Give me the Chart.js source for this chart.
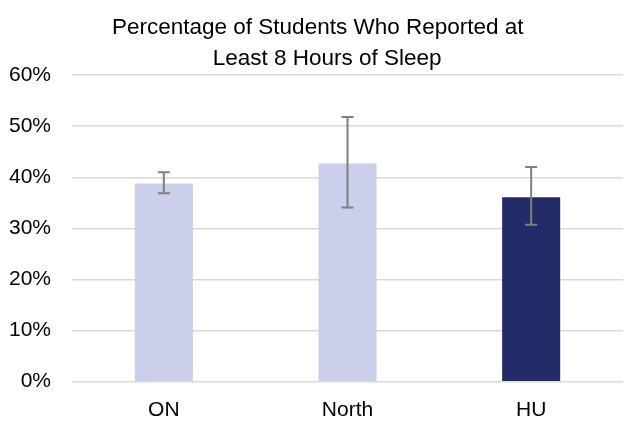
<!DOCTYPE html>
<html>
<head>
<meta charset="utf-8">
<script src="https://cdn.jsdelivr.net/npm/chart.js@4"></script>
<style>
  html, body { margin: 0; padding: 0; background: #fff; }
  #wrap { width: 637px; height: 433px; }
</style>
</head>
<body>
<div id="wrap"><canvas id="sleep"></canvas></div>
<script>
// data
const categories = ['ON', 'North', 'HU'];
const pctSleep   = [38.8, 42.7, 36.1];
const errLow     = [36.9, 34.1, 30.7];
const errHigh    = [41.0, 51.8, 42.0];
const barColors  = ['#cbcfec', '#cbcfec', '#232c68'];
const yTicks     = [0, 10, 20, 30, 40, 50, 60];

const FONT = "'Liberation Sans', Arial, sans-serif";

// error bars drawn over the bars, through the y scale
const errorBars = {
  id: 'errorBars',
  afterDatasetsDraw(chart) {
    const ctx = chart.ctx, y = chart.scales.y;
    const meta = chart.getDatasetMeta(0);
    ctx.save();
    ctx.strokeStyle = '#7f7f7f';
    ctx.lineWidth = 2;
    meta.data.forEach((bar, i) => {
      const x = bar.x, yHi = y.getPixelForValue(errHigh[i]), yLo = y.getPixelForValue(errLow[i]);
      ctx.beginPath();
      ctx.moveTo(x, yHi); ctx.lineTo(x, yLo);
      ctx.moveTo(x - 6, yHi); ctx.lineTo(x + 6, yHi);
      ctx.moveTo(x - 6, yLo); ctx.lineTo(x + 6, yLo);
      ctx.stroke();
    });
    ctx.restore();
  }
};

new Chart(document.getElementById('sleep'), {
  type: 'bar',
  data: {
    labels: categories,
    datasets: [{
      data: pctSleep,
      backgroundColor: barColors,
      categoryPercentage: 1,
      barPercentage: 0.316
    }]
  },
  options: {
    responsive: true,
    maintainAspectRatio: false,
    animation: false,
    layout: { padding: { left: 0, right: 14, top: 0, bottom: 0 } },
    plugins: {
      legend: { display: false },
      tooltip: { enabled: false },
      title: {
        display: true,
        // leading spaces nudge each line to where the reference puts it
        text: ['  Percentage of Students Who Reported at', '     Least 8 Hours of Sleep'],
        color: '#000',
        font: { family: FONT, size: 22.5, weight: 'normal', lineHeight: 1.38 },
        padding: { top: 12, bottom: 1 }
      }
    },
    scales: {
      x: {
        grid: { display: false },
        border: { display: false },
        ticks: { color: '#000', padding: 8, font: { family: FONT, size: 21 } },
        afterFit(s) { s.height = 51.3; }
      },
      y: {
        min: 0,
        max: 60,
        afterBuildTicks(s) { s.ticks = yTicks.map(v => ({ value: v })); },
        grid: { color: '#d9d9d9', lineWidth: 1.5, drawTicks: false },
        border: { display: false },
        ticks: {
          color: '#000',
          padding: 21,
          font: { family: FONT, size: 21 },
          callback: v => v + '%'
        },
        afterFit(s) { s.width = 72; }
      }
    }
  },
  plugins: [errorBars]
});
</script>
</body>
</html>
